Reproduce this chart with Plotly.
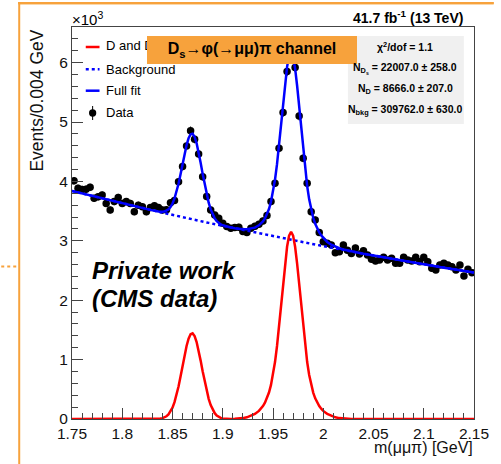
import math
import plotly.graph_objects as go

# ---------------- data ----------------
# 100 bins of 0.004 GeV from 1.75 to 2.15 GeV
bin_lo, bin_w, n_bins = 1.75, 0.004, 100
mass_centers = [round(bin_lo + bin_w * (i + 0.5), 4) for i in range(n_bins)]

events = [4010, 3885, 3865, 3870, 3900, 3715, 3740, 3770, 3630, 3520,
          3660, 3730, 3630, 3660, 3630, 3490, 3600, 3575, 3490, 3560,
          3590, 3560, 3520, 3525, 3640, 3680, 3995, 4250, 4595, 4855,
          4710, 4460, 4080, 3745, 3520, 3435, 3380, 3295, 3240, 3210,
          3225, 3230, 3155, 3140, 3210, 3245, 3280, 3335, 3425, 3660,
          3970, 4560, 5160, 5850, 6060, 5920, 5100, 4390, 3968, 3490,
          3350, 3140, 2985, 2958, 2930, 2800, 2817, 2929, 2840, 2785,
          2880, 2778, 2834, 2761, 2688, 2660, 2677, 2722, 2677, 2705,
          2621, 2621, 2722, 2677, 2660, 2722, 2649, 2722, 2649, 2537,
          2508, 2593, 2621, 2593, 2564, 2508, 2593, 2407, 2520, 2463]
event_err = [math.sqrt(v) for v in events]  # Poisson uncertainties

# fit curves sampled along the mass axis
fit_x = [1.75, 1.76, 1.77, 1.78, 1.79, 1.80, 1.81, 1.82, 1.83,
         1.836, 1.838, 1.840, 1.842, 1.844, 1.846, 1.848, 1.850, 1.852, 1.854,
         1.856, 1.858, 1.860, 1.862, 1.864, 1.866, 1.868, 1.870, 1.872, 1.874,
         1.876, 1.878, 1.880, 1.882, 1.884, 1.886, 1.888, 1.890, 1.892, 1.894,
         1.896, 1.898, 1.900, 1.902, 1.904,
         1.908, 1.912, 1.916, 1.920, 1.924, 1.928, 1.932,
         1.936, 1.938, 1.940, 1.942, 1.944, 1.946, 1.948, 1.950, 1.952, 1.954,
         1.956, 1.958, 1.960, 1.962, 1.964, 1.966, 1.968, 1.970, 1.972, 1.974,
         1.976, 1.978, 1.980, 1.982, 1.984, 1.986, 1.988, 1.990, 1.992, 1.994,
         1.996, 1.998, 2.000,
         2.004, 2.008, 2.012, 2.016, 2.020, 2.024, 2.028, 2.032, 2.036, 2.040,
         2.05, 2.06, 2.07, 2.08, 2.09, 2.10, 2.11, 2.12, 2.13, 2.14, 2.15]

background = [3838, 3796, 3754, 3713, 3672, 3631, 3591, 3552, 3513,
              3490, 3482, 3474, 3467, 3459, 3451, 3444, 3436, 3429, 3421,
              3413, 3406, 3398, 3391, 3383, 3376, 3368, 3361, 3353, 3346,
              3339, 3331, 3324, 3317, 3309, 3302, 3295, 3287, 3280, 3273,
              3266, 3258, 3251, 3244, 3237,
              3223, 3208, 3194, 3180, 3166, 3152, 3138,
              3124, 3117, 3110, 3103, 3096, 3090, 3083, 3076, 3069, 3062,
              3056, 3049, 3042, 3035, 3029, 3022, 3015, 3009, 3002, 2996,
              2989, 2982, 2976, 2969, 2963, 2956, 2950, 2943, 2937, 2930,
              2924, 2917, 2910,
              2897, 2885, 2872, 2860, 2847, 2834, 2822, 2809, 2797, 2784,
              2754, 2723, 2693, 2664, 2634, 2605, 2577, 2548, 2520, 2493, 2465]

signal = [0, 0, 0, 0, 0, 0, 0, 0, 0,
          4, 7, 14, 26, 46, 77, 124, 191, 284, 402,
          548, 715, 893, 1070, 1229, 1352, 1426, 1441, 1396, 1296,
          1153, 983, 803, 629, 472, 340, 234, 155, 98, 59,
          35, 19, 10, 5, 2,
          2, 4, 7, 15, 28, 50, 84,
          137, 173, 218, 275, 348, 445, 574, 742, 959, 1229,
          1548, 1903, 2270, 2615, 2900, 3087, 3153, 3087, 2900, 2615,
          2270, 1903, 1548, 1229, 959, 742, 574, 445, 348, 275,
          218, 173, 137,
          84, 50, 28, 15, 7, 4, 2, 1, 0, 0,
          0, 0, 0, 0, 0, 0, 0, 0, 0, 0, 0]

# full fit = signal + background
full_fit = [b + s for b, s in zip(background, signal)]

x_tickvals = [1.75, 1.80, 1.85, 1.90, 1.95, 2.00, 2.05, 2.10, 2.15]
x_ticktext = ["1.75", "1.8", "1.85", "1.9", "1.95", "2", "2.05", "2.1", "2.15"]
y_tickvals = [0, 1000, 2000, 3000, 4000, 5000, 6000]
y_ticktext = ["0", "1", "2", "3", "4", "5", "6"]

stats_lines = ["χ<sup>2</sup>/dof = 1.1",
               "N<sub>D<sub>s</sub></sub> = 22007.0 ± 258.0",
               "N<sub>D</sub> = 8666.0 ± 207.0",
               "N<sub>bkg</sub> = 309762.0 ± 630.0"]

# ---------------- figure ----------------
W, H = 501, 464
L, R, T, B = 72, 20, 27, 45
FONT = "Liberation Sans, Arial, sans-serif"
BLUE = "#0000ff"
RED = "#ff0000"
ORANGE = "#f7a23c"


def px(x):
    return (x - L) / (W - L - R)


def py(y):
    return (H - B - y) / (H - T - B)


fig = go.Figure()
fig.add_trace(go.Scatter(
    x=mass_centers, y=events, mode="markers",
    marker=dict(color="black", size=7.5),
    error_y=dict(type="data", array=event_err, color="black", thickness=1, width=0),
    showlegend=False))
fig.add_trace(go.Scatter(x=fit_x, y=background, mode="lines",
                         line=dict(color=BLUE, width=2.5, dash="dot"), showlegend=False))
fig.add_trace(go.Scatter(x=fit_x, y=full_fit, mode="lines",
                         line=dict(color=BLUE, width=2.5), showlegend=False))
fig.add_trace(go.Scatter(x=fit_x, y=signal, mode="lines",
                         line=dict(color=RED, width=2.5), showlegend=False))

shapes = []
# slide decoration (top rule drawn in both shape layers)
shapes.append(dict(type="rect", xref="paper", yref="paper", x0=px(17.3), x1=px(501),
                   y0=py(4.3), y1=py(2.0), fillcolor=ORANGE, line=dict(width=0), layer="below"))
shapes.append(dict(type="line", xref="paper", yref="paper", x0=px(17.3), x1=px(501),
                   y0=py(3.2), y1=py(3.2), line=dict(color=ORANGE, width=2.2)))
shapes.append(dict(type="line", xref="paper", yref="paper", x0=px(18.3), x1=px(18.3),
                   y0=py(2.0), y1=py(464), line=dict(color=ORANGE, width=2)))
shapes.append(dict(type="line", xref="paper", yref="paper", x0=px(0), x1=px(16),
                   y0=py(266.5), y1=py(266.5), line=dict(color=ORANGE, width=2, dash="dot")))
# stats box
shapes.append(dict(type="rect", xref="paper", yref="paper", x0=px(352.7), x1=px(470.7),
                   y0=py(124), y1=py(36), fillcolor="#f0f0f0", line=dict(width=0), layer="above"))
# legend samples
shapes.append(dict(type="line", xref="paper", yref="paper", x0=px(86), x1=px(100),
                   y0=py(47), y1=py(47), line=dict(color=RED, width=2.5)))
shapes.append(dict(type="line", xref="paper", yref="paper", x0=px(86), x1=px(100),
                   y0=py(69.3), y1=py(69.3), line=dict(color=BLUE, width=2.5, dash="dot")))
shapes.append(dict(type="line", xref="paper", yref="paper", x0=px(86), x1=px(100),
                   y0=py(90.7), y1=py(90.7), line=dict(color=BLUE, width=2.5)))
shapes.append(dict(type="line", xref="paper", yref="paper", x0=px(93), x1=px(93),
                   y0=py(106), y1=py(120), line=dict(color="black", width=1)))
shapes.append(dict(type="circle", xref="paper", yref="paper", x0=px(89.3), x1=px(96.7),
                   y0=py(116.7), y1=py(109.3), fillcolor="black", line=dict(width=0)))

ann = []


def text(t, x, y, size, xanchor="left", yanchor="middle", color="black", **kw):
    ann.append(dict(text=t, x=px(x), y=py(y), xref="paper", yref="paper",
                    xanchor=xanchor, yanchor=yanchor, showarrow=False,
                    font=dict(family=FONT, size=size, color=color), **kw))


text("×10<sup>3</sup>", 70, 19, 15)
text("<b>41.7 fb<sup>-1</sup> (13 TeV)</b>", 472, 17.5, 14, xanchor="right")
text("D and D<sub>s</sub> signal", 105, 47, 13)
text("Background", 105, 69.3, 13)
text("Full fit", 105, 90.7, 13)
text("Data", 105, 113, 13)
# orange title box (covers end of first legend entry)
ann.append(dict(text="<b>D<sub>s</sub>→φ(→μμ)π channel</b>", x=px(148), y=py(36),
                xref="paper", yref="paper", xanchor="left", yanchor="top",
                width=210, height=28, bgcolor=ORANGE, borderpad=0, borderwidth=0,
                showarrow=False, font=dict(family=FONT, size=16, color="black")))
for t, yy in zip(stats_lines, [46.7, 68.3, 89.3, 110]):
    text("<b>" + t + "</b>", 411, yy, 10.5, xanchor="center")
text("<b><i>Private work</i></b>", 90, 270, 24)
text("<b><i>(CMS data)</i></b>", 90, 298, 24)
text("Events/0.004 GeV", 36, 28, 17.5, xanchor="center", yanchor="top", textangle=-90, color="#111")
text("m(μμπ) [GeV]", 482, 447, 16, xanchor="right", color="#111")

axis_common = dict(showgrid=False, zeroline=False, showline=True, linecolor="#444",
                   linewidth=1, mirror=True, ticks="inside", ticklen=11, tickwidth=1,
                   tickcolor="#444", tickfont=dict(family=FONT, size=15.5, color="#111"))

fig.update_layout(
    width=W, height=H, autosize=False,
    margin=dict(l=L, r=R, t=T, b=B, pad=0),
    paper_bgcolor="white", plot_bgcolor="white",
    showlegend=False,
    shapes=shapes, annotations=ann,
    xaxis=dict(range=[1.75, 2.15], tickmode="array", tickvals=x_tickvals, ticktext=x_ticktext,
               minor=dict(tickmode="linear", tick0=1.75, dtick=0.01, ticks="inside",
                          ticklen=6, tickcolor="#444"),
               **axis_common),
    yaxis=dict(range=[0, 6600], tickmode="array", tickvals=y_tickvals, ticktext=y_ticktext,
               minor=dict(tickmode="linear", tick0=0, dtick=200, ticks="inside",
                          ticklen=6, tickcolor="#444"),
               **axis_common),
)

fig.write_html("out.html", config={"displayModeBar": False},
               post_script="document.body.style.margin='0';")
